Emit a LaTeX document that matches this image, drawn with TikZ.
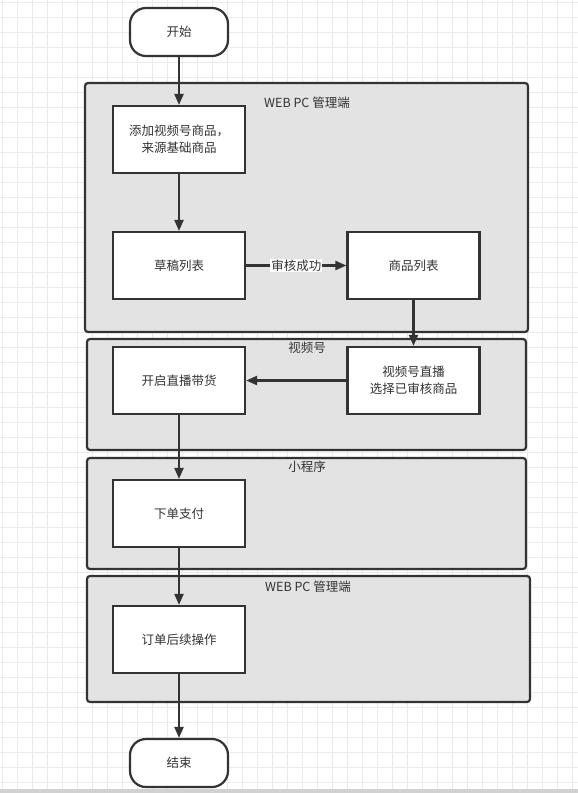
\documentclass[tikz,border=0pt]{standalone}
\usepackage{fontspec}
\setmainfont{Noto Sans CJK SC}
\usetikzlibrary{arrows.meta}

\definecolor{ink}{HTML}{333333}
\definecolor{lanegray}{HTML}{E3E3E3}
\definecolor{gridgray}{HTML}{EBEBEB}

\begin{document}
\begin{tikzpicture}[x=1pt, y=-1pt, line width=2.2pt, >={Triangle[length=11pt,width=9pt]},
	lane/.style={draw=ink, fill=lanegray, line width=2.2pt, rounded corners=3pt},
	lanetitle/.style={text=ink, font=\fontsize{12.5}{14}\selectfont},
	stepbox/.style={draw=ink, fill=white, line width=2.2pt, minimum width=132pt, minimum height=67pt,
		align=center, text=ink, font=\fontsize{12.5}{17}\selectfont},
	term/.style={stepbox, rounded corners=16pt, minimum width=98pt, minimum height=48pt}]

\useasboundingbox (0,0) rectangle (578,793);

% background grid
\fill[white] (0,0) rectangle (578,793);
\foreach \gx in {2,17,...,577}{
	\draw[gridgray, line width=0.7pt] (\gx,0) -- (\gx,789);
}
\foreach \gy in {2,17,...,788}{
	\draw[gridgray, line width=0.7pt] (0,\gy) -- (578,\gy);
}
\fill[black!18] (0,789) rectangle (578,793);

% lanes
\draw[lane] (85,83) rectangle (528,332);
\draw[lane] (87,339) rectangle (526,450);
\draw[lane] (87,458) rectangle (526,569);
\draw[lane] (87,576) rectangle (530,702);

\node[lanetitle] (webtitle) at (307,103) {WEB PC 管理端};
\node[lanetitle] (chantitle) at (307,348) {视频号};
\node[lanetitle] (apptitle) at (307,467) {小程序};
\node[lanetitle] (webtitleb) at (308,587) {WEB PC 管理端};

% steps
\node[term] (start) at (179,32) {开始};
\node[stepbox] (add) at (179,139.5) {添加视频号商品，\\来源基础商品};
\node[stepbox] (draft) at (179,265.5) {草稿列表};
\node[stepbox] (goods) at (413.5,265.5) {商品列表};
\node[stepbox] (live) at (179,380.5) {开启直播带货};
\node[stepbox] (pick) at (413.5,380.5) {视频号直播\\选择已审核商品};
\node[stepbox] (pay) at (179,513.5) {下单支付};
\node[stepbox] (after) at (179,639.5) {订单后续操作};
\node[term] (finish) at (179,763) {结束};

% flow
\draw[->, ink, line width=2.2pt] (start) -- (add);
\draw[->, ink, line width=2.2pt] (add) -- (draft);
\draw[->, ink, line width=2.2pt] (draft) -- node[fill=white, inner sep=1pt, text=ink,
	font=\fontsize{12.5}{14}\selectfont] (okay) {审核成功} (goods);
\draw[->, ink, line width=2.2pt] (goods) -- (pick);
\draw[->, ink, line width=2.2pt] (pick) -- (live);
\draw[->, ink, line width=2.2pt] (live) -- (pay);
\draw[->, ink, line width=2.2pt] (pay) -- (after);
\draw[->, ink, line width=2.2pt] (after) -- (finish);

\end{tikzpicture}
\end{document}
